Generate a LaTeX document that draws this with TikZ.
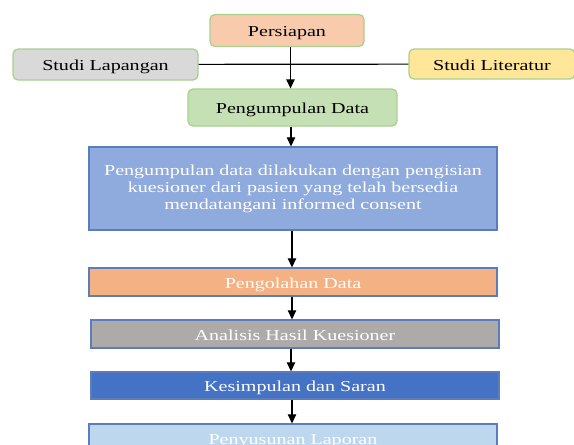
\documentclass[tikz,border=0pt]{standalone}
\usepackage{fontspec}
\setmainfont{Liberation Serif}[FakeStretch=1.32]
\usetikzlibrary{arrows.meta}

\definecolor{boxgreen}{HTML}{A9D18E}
\definecolor{boxblue}{HTML}{5B7DBE}
\definecolor{peach}{HTML}{F8CBAD}
\definecolor{lightgray}{HTML}{D9D9D9}
\definecolor{lightgold}{HTML}{FFE699}
\definecolor{lightgreen}{HTML}{C5E0B4}
\definecolor{midblue}{HTML}{8FAADC}
\definecolor{orangefill}{HTML}{F4B183}
\definecolor{grayfill}{HTML}{AEAAAA}
\definecolor{darkblue}{HTML}{4472C4}
\definecolor{paleblue}{HTML}{BDD7EE}

\begin{document}
\begin{tikzpicture}[
  x=1pt, y=-1pt,
  >={Triangle[width=8.5pt,length=9pt]},
  box/.style={
    minimum width=408pt,
    minimum height=28pt,
    align=center,
    inner sep=2pt,
    line width=1.3pt,
    text=white,
    font=\fontsize{15.2}{17}\selectfont
  },
  single/.style={text height=13pt, text depth=1pt},
  topbox/.style={box, single, draw=boxgreen, rounded corners=5pt, text=black},
  lowbox/.style={box, draw=boxblue},
  bar/.style={lowbox, single},
  arr/.style={->, line width=1.2pt},
  link/.style={line width=1.2pt},
]
\useasboundingbox (0,0) rectangle (574,445);

% Preparation stage.
\node[topbox, fill=peach, minimum width=154pt, minimum height=32pt]
  (persiapan) at (287,30.5) {Persiapan};
\node[topbox, fill=lightgray, minimum width=185pt, minimum height=31pt]
  (lapangan) at (105.5,64.5) {Studi Lapangan};
\node[topbox, fill=lightgold, minimum width=166pt, minimum height=30pt]
  (literatur) at (492,64) {Studi Literatur};
\node[topbox, fill=lightgreen, minimum width=209pt, minimum height=37pt]
  (pengumpulan) at (292.5,107.5) {Pengumpulan Data};

% Processing stage.
\node[lowbox, fill=midblue, minimum height=83pt] (kuesioner) at (293,188.5)
  {Pengumpulan data dilakukan dengan pengisian\\kuesioner dari pasien yang telah bersedia\\mendatangani informed consent};
\node[bar, fill=orangefill] (pengolahan) at (293,282) {Pengolahan Data};
\node[bar, fill=grayfill] (analisis) at (295,334) {Analisis Hasil Kuesioner};
\node[bar, fill=darkblue, minimum height=27pt] (kesimpulan) at (295,385.5) {Kesimpulan dan Saran};
\node[bar, fill=paleblue] (penyusunan) at (293,438) {Penyusunan Laporan};

% Connectors.
\draw[link] (lapangan) -- (literatur);
\draw[arr] (persiapan.south -| 290.5,0) -- (pengumpulan.north -| 290.5,0);
\draw[arr] (pengumpulan.south -| 291,0) -- (kuesioner.north -| 291,0);
\draw[arr] (kuesioner.south -| 292,0) -- (pengolahan.north -| 292,0);
\draw[arr] (pengolahan.south -| 292,0) -- (analisis.north -| 292,0);
\draw[arr] (analisis.south -| 291,0) -- (kesimpulan.north -| 291,0);
\draw[arr] (kesimpulan.south -| 292,0) -- (penyusunan.north -| 292,0);

\end{tikzpicture}
\end{document}
